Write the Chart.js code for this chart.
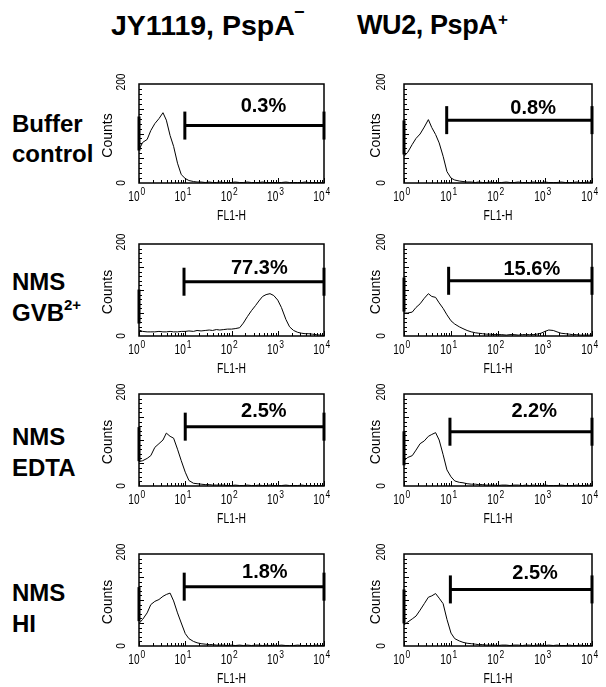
<!DOCTYPE html>
<html>
<head>
<meta charset="utf-8">
<script src="https://cdn.jsdelivr.net/npm/chart.js@4.4.0/dist/chart.umd.min.js"></script>
<style>
body { margin: 0; background: #fff; width: 606px; height: 687px; overflow: hidden; position: relative; font-family: "Liberation Sans", Arial, sans-serif; }
canvas { position: absolute; }
.t { position: absolute; font-weight: bold; white-space: nowrap; line-height: 1; color: #000; }
</style>
</head>
<body>
<div class="t" style="left:111px; top:11px; font-size:28.5px;">JY1119, PspA</div>
<div class="t" style="left:294px; top:3px; font-size:18px;">&minus;</div>
<div class="t" style="left:357px; top:12px; font-size:27px; letter-spacing:-0.4px;">WU2, PspA</div>
<div class="t" style="left:498px; top:11px; font-size:17px;">+</div>

<div class="t" style="left:12px; top:112px; font-size:24px;">Buffer</div>
<div class="t" style="left:12px; top:142px; font-size:24px;">control</div>
<div class="t" style="left:12px; top:270px; font-size:24px;">NMS</div>
<div class="t" style="left:12px; top:301px; font-size:24px;">GVB</div>
<div class="t" style="left:64px; top:297px; font-size:15px;">2+</div>
<div class="t" style="left:12px; top:425px; font-size:24px;">NMS</div>
<div class="t" style="left:12px; top:456px; font-size:24px;">EDTA</div>
<div class="t" style="left:12px; top:581px; font-size:24px;">NMS</div>
<div class="t" style="left:12px; top:612px; font-size:24px;">HI</div>

<script>
// FL1-H channel positions (shared by all histograms)
var fl1Channels = [1, 1.2, 1.5, 1.8, 2.2, 2.7, 3.3, 3.9, 4.7, 5.6, 6.8, 8.2,
    10, 12, 15, 18, 22, 27, 33, 39, 47, 56, 68, 82,
    100, 120, 150, 180, 220, 270, 330, 390, 470, 560, 680, 820,
    1000, 1200, 1500, 1800, 2200, 2700, 3300, 3900, 4700, 5600, 6800, 8200, 10000];

// counts per panel (row by row, JY1119 then WU2)
var jyBuffer = [67, 82, 88, 106, 120, 130, 142, 127, 96, 74, 40, 17,
    9, 5, 3, 2, 2, 1, 2, 1, 1, 2, 1, 1,
    1, 2, 1, 1, 2, 1, 1, 1, 2, 1, 1, 1,
    1, 1, 2, 1, 1, 1, 1, 2, 1, 1, 1, 1, 0];
var wuBuffer = [54, 62, 78, 90, 99, 113, 128, 112, 98, 81, 54, 23,
    10, 6, 4, 3, 2, 2, 1, 2, 1, 1, 2, 1,
    1, 1, 2, 1, 1, 2, 1, 1, 1, 2, 1, 1,
    2, 1, 1, 1, 2, 1, 1, 1, 2, 1, 1, 2, 1];
var jyGvb = [13, 10, 9, 9, 9, 10, 9, 9, 10, 9, 9, 10,
    10, 11, 10, 12, 11, 12, 13, 12, 14, 13, 14, 15,
    15, 16, 18, 28, 42, 55, 66, 76, 86, 90, 92, 88,
    78, 62, 36, 20, 12, 8, 6, 5, 5, 4, 3, 2, 1];
var wuGvb = [50, 50, 52, 62, 70, 82, 92, 86, 84, 72, 60, 46,
    33, 26, 20, 16, 12, 9, 7, 6, 5, 4, 4, 3,
    3, 3, 2, 3, 3, 2, 3, 3, 3, 3, 4, 6,
    10, 13, 12, 9, 6, 5, 4, 3, 3, 2, 2, 2, 2];
var jyEdta = [53, 55, 60, 66, 84, 92, 100, 115, 108, 104, 80, 55,
    30, 12, 6, 5, 4, 3, 3, 2, 2, 2, 2, 1,
    1, 2, 1, 1, 2, 1, 1, 2, 1, 1, 2, 1,
    1, 1, 2, 1, 1, 1, 2, 1, 1, 1, 1, 1, 0];
var wuEdta = [55, 62, 66, 78, 92, 98, 108, 112, 116, 100, 68, 35,
    20, 11, 8, 7, 5, 4, 4, 3, 3, 2, 2, 2,
    1, 2, 2, 1, 2, 2, 1, 2, 1, 2, 1, 1,
    2, 1, 1, 1, 2, 1, 1, 1, 2, 1, 1, 2, 1];
var jyHi = [49, 58, 72, 90, 97, 101, 108, 112, 115, 98, 72, 50,
    27, 16, 10, 7, 5, 4, 3, 3, 2, 2, 2, 1,
    2, 1, 2, 1, 2, 1, 2, 2, 1, 2, 1, 2,
    1, 2, 1, 1, 1, 2, 1, 1, 1, 1, 2, 1, 1];
var wuHi = [46, 52, 59, 65, 78, 92, 106, 109, 114, 104, 92, 58,
    28, 16, 11, 8, 6, 5, 4, 3, 3, 2, 2, 2,
    1, 2, 2, 1, 2, 2, 1, 2, 2, 1, 2, 2,
    1, 2, 1, 2, 1, 1, 2, 1, 1, 2, 1, 1, 1];
var panelCounts = [jyBuffer, wuBuffer, jyGvb, wuGvb, jyEdta, wuEdta, jyHi, wuHi];

// gate markers (M2) and the all-events marker (M1) left end
var gateLabels = ['0.3%', '0.8%', '77.3%', '15.6%', '2.5%', '2.2%', '1.8%', '2.5%'];
var gateStarts = [9.8, 8.1, 9.4, 8.9, 10, 9.5, 9.5, 9.7];
var gateEnd = 10000;
var gateLevels = [116, 127, 118, 120, 129, 118, 129, 123];
var labelXs = [490, 560, 400, 525, 500, 590, 525, 615];
var labelYs = [155, 150, 147, 145, 162, 162, 160, 158];
var m1Levels = [100, 92, 64, 90, 91, 82, 91, 86];

// axis ticks
var xTickValues = [1, 10, 100, 1000, 10000];
var xTickExps = ['0', '1', '2', '3', '4'];
var yTickValues = [0, 200];
var yTickLabels = ['0', '200'];
var xTitle = 'FL1-H';
var yTitle = 'Counts';

// panel placement
var colLeft = [139, 404], colWidth = [191, 194];
var rowTop = [84, 244, 394, 554], rowHeight = [99, 92, 92, 92];
var yLabelOff = [17, 22], yTitleOff = [31, 28];

var FONT = '"Liberation Sans", Arial, sans-serif';

function narrowText(ctx, txt, x, y, font, sx, align) {
    ctx.save();
    ctx.translate(x, y);
    ctx.scale(sx, 1);
    ctx.font = font;
    ctx.textAlign = align;
    ctx.textBaseline = 'alphabetic';
    ctx.fillText(txt, 0, 0);
    ctx.restore();
}

function upText(ctx, txt, x, y, font, sx, align) {
    ctx.save();
    ctx.translate(x, y);
    ctx.rotate(-Math.PI / 2);
    ctx.scale(sx, 1);
    ctx.font = font;
    ctx.textAlign = align;
    ctx.textBaseline = 'middle';
    ctx.fillText(txt, 0, 0);
    ctx.restore();
}

var histFrame = {
    id: 'histFrame',
    afterDraw: function(chart, args, opts) {
        var ctx = chart.ctx, a = chart.chartArea;
        var xs = chart.scales.x, ys = chart.scales.y;
        var i = opts.panel, col = i % 2;
        ctx.save();
        ctx.strokeStyle = '#000';
        ctx.fillStyle = '#000';
        ctx.lineWidth = 1.5;
        ctx.strokeRect(a.left, a.top, a.right - a.left, a.bottom - a.top);

        // inward tick marks
        ctx.lineWidth = 1;
        ctx.beginPath();
        for (var d = 0; d < xTickValues.length - 1; d++) {
            for (var m = 2; m <= 9; m++) {
                var px = Math.round(xs.getPixelForValue(xTickValues[d] * m)) + 0.5;
                ctx.moveTo(px, a.bottom);
                ctx.lineTo(px, a.bottom - 3);
            }
        }
        xTickValues.forEach(function(v) {
            var px = Math.round(xs.getPixelForValue(v)) + 0.5;
            ctx.moveTo(px, a.bottom);
            ctx.lineTo(px, a.bottom - 5);
        });
        for (var c = 10; c < 200; c += 10) {
            var py = Math.round(ys.getPixelForValue(c)) + 0.5;
            ctx.moveTo(a.left, py);
            ctx.lineTo(a.left + (c % 50 === 0 ? 5 : 3), py);
        }
        ctx.stroke();

        // x tick labels 10^n
        xTickValues.forEach(function(v, k) {
            var px = xs.getPixelForValue(v);
            narrowText(ctx, '10', px + 0.5, a.bottom + 18, '14px ' + FONT, 0.72, 'right');
            narrowText(ctx, xTickExps[k], px + 1.5, a.bottom + 12, '10px ' + FONT, 0.85, 'left');
        });
        narrowText(ctx, xTitle, (a.left + a.right) / 2, a.bottom + 37, '14px ' + FONT, 0.74, 'center');

        // y tick labels and title
        var lx = a.left - yLabelOff[col];
        upText(ctx, yTickLabels[0], lx, ys.getPixelForValue(yTickValues[0]), '12px ' + FONT, 0.85, 'center');
        upText(ctx, yTickLabels[1], lx, ys.getPixelForValue(yTickValues[1]) - 2, '12px ' + FONT, 0.85, 'center');
        upText(ctx, yTitle, a.left - yTitleOff[col], (a.top + a.bottom) / 2 + 2, '14px ' + FONT, 1, 'center');

        // gate percentage
        ctx.font = 'bold 20px ' + FONT;
        ctx.textAlign = 'center';
        ctx.textBaseline = 'middle';
        ctx.fillText(gateLabels[i], xs.getPixelForValue(labelXs[i]), ys.getPixelForValue(labelYs[i]));
        ctx.restore();
    }
};

function makePanel(i) {
    var row = Math.floor(i / 2), col = i % 2;
    var padL = 45, padT = 20, padR = 14, padB = 45;
    var W = colWidth[col], H = rowHeight[row];
    var cv = document.createElement('canvas');
    cv.width = W + padL + padR;
    cv.height = H + padT + padB;
    cv.style.left = (colLeft[col] - padL) + 'px';
    cv.style.top = (rowTop[row] - padT) + 'px';
    document.body.appendChild(cv);

    var points = fl1Channels.map(function(x, k) {
        return { x: x, y: panelCounts[i][k] };
    });

    new Chart(cv.getContext('2d'), {
        type: 'line',
        data: {
            datasets: [{
                data: points,
                borderColor: '#000',
                borderWidth: 1,
                pointRadius: 0,
                tension: 0,
                fill: false
            }, {
                data: [{ x: gateStarts[i], y: gateLevels[i] }, { x: gateEnd, y: gateLevels[i] }],
                borderColor: '#000',
                borderWidth: 3,
                pointStyle: 'line',
                rotation: 90,
                pointRadius: 14,
                pointBorderWidth: 3,
                pointBorderColor: '#000',
                clip: false
            }, {
                data: [{ x: 1, y: m1Levels[i] }],
                showLine: false,
                pointStyle: 'line',
                rotation: 90,
                pointRadius: 17,
                pointBorderWidth: 3,
                pointBorderColor: '#000',
                clip: false
            }]
        },
        options: {
            responsive: false,
            animation: false,
            events: [],
            layout: { padding: { left: padL, top: padT, right: padR, bottom: padB } },
            scales: {
                x: { type: 'logarithmic', min: 1, max: 10000, display: false },
                y: { type: 'linear', min: 0, max: 200, display: false }
            },
            plugins: {
                legend: { display: false },
                tooltip: { enabled: false },
                histFrame: { panel: i }
            }
        },
        plugins: [histFrame]
    });
}

for (var p = 0; p < panelCounts.length; p++) {
    makePanel(p);
}
</script>
</body>
</html>
